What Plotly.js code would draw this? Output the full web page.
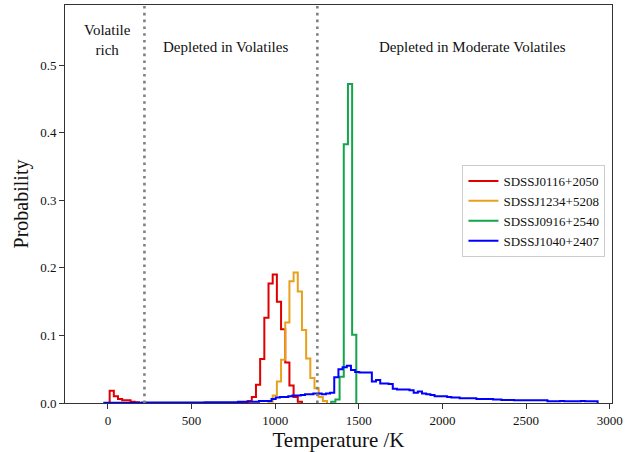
<!DOCTYPE html>
<html>
<head>
<meta charset="utf-8">
<script src="https://cdn.plot.ly/plotly-3.0.1.min.js"></script>
<style>html,body{margin:0;padding:0;background:#fff;}#chart{width:635px;height:452px;}</style>
</head>
<body>
<div id="chart"></div>
<script>
// Series names and colours
const seriesNames = ["SDSSJ0116+2050", "SDSSJ1234+5208", "SDSSJ0916+2540", "SDSSJ1040+2407"];
const seriesColors = ["#e00000", "#e8a11c", "#11a64a", "#0000ff"];

// Histogram bins (K): shared grid for the first three stars, own grid for the fourth
const gridStart = 10;      // first bin edge for red/orange/green
const gridWidth = 25;      // bin width
const blueStart = -22;
const blueWidth = 25;

// SDSSJ0116+2050 (red): bins from 10 K
const redProb = [
  0.018, 0.010, 0.006, 0.004, 0.004, 0.002, 0.001, 0, 0, 0,
  0, 0, 0, 0, 0, 0, 0, 0, 0, 0,
  0, 0, 0, 0, 0, 0, 0, 0, 0, 0,
  0, 0, 0.001, 0.003, 0.009, 0.027, 0.065, 0.126, 0.177, 0.190,
  0.150, 0.109, 0.060, 0.026, 0.009, 0.002
];
// SDSSJ1234+5208 (orange): first bin at 960 K
const orangeFirstBin = 38;
const orangeProb = [0.002, 0.011, 0.032, 0.064, 0.119, 0.180, 0.193, 0.165, 0.108, 0.066, 0.037, 0.022, 0.009, 0.003];
// SDSSJ0916+2540 (green): first bin at 1335 K
const greenFirstBin = 53;
const greenProb = [0.002, 0.005, 0.039, 0.383, 0.472, 0.101];
// SDSSJ1040+2407 (blue): bins from -22 K
const blueProb = [
  0.0004, 0.0004, 0.0004, 0.0004, 0.0004, 0.0004, 0.0004, 0.0004, 0.0004, 0.0006,
  0.0006, 0.0006, 0.0006, 0.0006, 0.0006, 0.0006, 0.0006, 0.0006, 0.0006, 0.0006,
  0.0006, 0.0006, 0.0006, 0.0006, 0.001, 0.001, 0.001, 0.001, 0.001, 0.001,
  0.001, 0.001, 0.002, 0.002, 0.002, 0.002, 0.002, 0.003, 0.003, 0.003,
  0.006, 0.008, 0.009, 0.009, 0.010, 0.011, 0.011, 0.012, 0.013, 0.013,
  0.014, 0.014, 0.013, 0.014, 0.015, 0.038, 0.050, 0.053, 0.055, 0.049,
  0.046, 0.045, 0.045, 0.045, 0.032, 0.034, 0.029, 0.029, 0.028, 0.021,
  0.020, 0.020, 0.020, 0.019, 0.015, 0.017, 0.014, 0.013, 0.012, 0.010,
  0.010, 0.010, 0.009, 0.008, 0.008, 0.007, 0.007, 0.007, 0.007, 0.006,
  0.006, 0.006, 0.006, 0.005, 0.005, 0.0045, 0.0045, 0.0045, 0.004, 0.004,
  0.004, 0.004, 0.004, 0.004, 0.004, 0.004, 0.0025, 0.0025, 0.0025, 0.003,
  0.0025, 0.0025, 0.0025, 0.0025, 0.003, 0.0025, 0.0025, 0.0025
];

// Region boundaries and labels
const boundaryTemps = [218, 1252];
const regionLabels = ["Volatile<br>rich", "Depleted in Volatiles", "Depleted in Moderate Volatiles"];
const regionLabelTemps = [0, 700, 2177];
const xTicks = [0, 500, 1000, 1500, 2000, 2500, 3000];
const yTicks = [0, 0.1, 0.2, 0.3, 0.4, 0.5];

function stepTrace(start, width, firstBin, probs, name, color) {
  const xs = [], ys = [];
  const e0 = start + firstBin * width;
  xs.push(e0); ys.push(0);
  for (let i = 0; i < probs.length; i++) {
    xs.push(start + (firstBin + i) * width);
    ys.push(probs[i]);
  }
  xs.push(start + (firstBin + probs.length) * width); ys.push(0);
  return {
    x: xs, y: ys, type: "scatter", mode: "lines", name: name,
    line: {shape: "hv", color: color, width: 2}
  };
}

const traces = [
  stepTrace(gridStart, gridWidth, 0, redProb, seriesNames[0], seriesColors[0]),
  stepTrace(gridStart, gridWidth, orangeFirstBin, orangeProb, seriesNames[1], seriesColors[1]),
  stepTrace(gridStart, gridWidth, greenFirstBin, greenProb, seriesNames[2], seriesColors[2]),
  stepTrace(blueStart, blueWidth, 0, blueProb, seriesNames[3], seriesColors[3])
];

const font = "'Liberation Serif', 'DejaVu Serif', serif";
const shapes = boundaryTemps.map(t => ({
  type: "line", xref: "x", yref: "paper", x0: t, x1: t, y0: 0, y1: 1,
  line: {color: "#808080", width: 2.6, dash: "2.6px,4.2px"}
}));
const annotations = regionLabels.map((txt, i) => ({
  x: regionLabelTemps[i], y: i === 0 ? 0.537 : 0.527, xref: "x", yref: "y",
  text: txt, showarrow: false, xanchor: "center", yanchor: "middle",
  font: {family: font, size: 15, color: "#111"}
}));

const layout = {
  width: 635, height: 452,
  margin: {l: 65, r: 23, t: 5, b: 49},
  paper_bgcolor: "#fff", plot_bgcolor: "#fff",
  font: {family: font, color: "#111"},
  showlegend: true,
  legend: {
    x: 0.988, y: 0.598, xanchor: "right", yanchor: "top",
    bgcolor: "rgba(255,255,255,0.9)", bordercolor: "#cccccc", borderwidth: 1,
    font: {family: font, size: 13, color: "#111"}
  },
  xaxis: {
    range: [-257, 3014], tickvals: xTicks, ticktext: xTicks.map(String),
    ticks: "outside", ticklen: 5, tickcolor: "#333", tickwidth: 1,
    showline: true, linecolor: "#333", linewidth: 1, mirror: true,
    showgrid: false, zeroline: false,
    tickfont: {family: font, size: 13, color: "#111"},
    title: {text: "Temperature /K", font: {family: font, size: 21, color: "#111"}, standoff: 6}
  },
  yaxis: {
    range: [0, 0.589], tickvals: yTicks, ticktext: yTicks.map(v => v.toFixed(1)),
    ticks: "outside", ticklen: 5, tickcolor: "#333", tickwidth: 1,
    showline: true, linecolor: "#333", linewidth: 1, mirror: true,
    showgrid: false, zeroline: false,
    tickfont: {family: font, size: 13, color: "#111"},
    title: {text: "Probability", font: {family: font, size: 20, color: "#111"}, standoff: 6}
  },
  shapes: shapes,
  annotations: annotations
};

Plotly.newPlot("chart", traces, layout, {displayModeBar: false, staticPlot: true});
</script>
</body>
</html>
